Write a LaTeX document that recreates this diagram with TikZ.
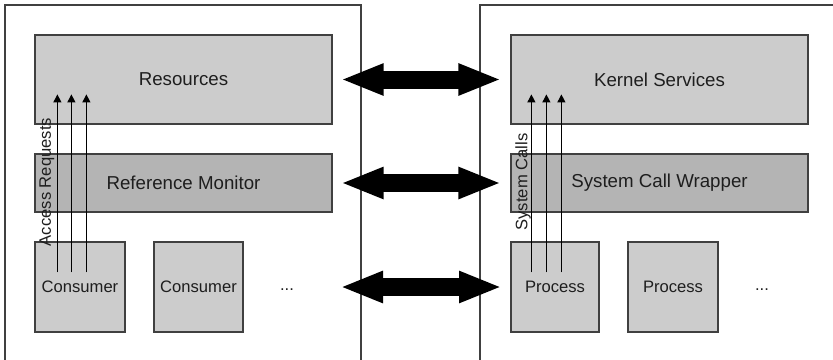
\documentclass[tikz,border=0pt]{standalone}
\usepackage{fontspec}
\setmainfont{Liberation Sans}
\usetikzlibrary{arrows.meta}
\definecolor{boxgray}{RGB}{204,204,204}
\definecolor{monitorgray}{RGB}{180,180,180}
\definecolor{framegray}{RGB}{64,64,64}
\definecolor{textgray}{RGB}{30,30,30}

\begin{document}
\begin{tikzpicture}[x=0.5pt,y=-0.5pt,
  frame/.style={draw=framegray,line width=0.6pt},
  layer/.style={draw=framegray,fill=boxgray,line width=0.6pt,inner sep=0pt,
    text=textgray,font=\fontsize{9.35}{11}\selectfont,
    minimum width=148.5pt},
  monitor/.style={layer,fill=monitorgray,minimum height=29pt},
  task/.style={layer,font=\fontsize{8.3}{10}\selectfont,minimum width=45pt,minimum height=45pt},
  smalltext/.style={text=textgray,font=\fontsize{8.3}{10}\selectfont,inner sep=0pt},
  bigarrow/.style={line width=9pt,{Triangle[length=21.5pt,width=14.5pt]}-{Triangle[length=21.5pt,width=14.5pt]}},
  callarrow/.style={line width=0.6pt,-{Triangle[length=4pt,width=4pt]}}]
\useasboundingbox (0,0) rectangle (833,359);
\clip (0,0) rectangle (833,359);

% the two systems
\draw[frame] (5,5) rectangle (361,380);
\draw[frame] (480,5) rectangle (850,380);

% left side
\node[layer,minimum height=44.5pt] (res) at (183.5,79.5) {Resources};
\node[monitor] (mon) at (183.5,183) {Reference Monitor};
\node[task] (cons1) at (80,287) {Consumer};
\node[task,minimum width=44.5pt] (cons2) at (198.5,287) {Consumer};
\node[smalltext] (dotsL) at (287,290) {...};

% right side
\node[layer,minimum height=44.5pt] (kern) at (659.5,79.5) {Kernel Services};
\node[monitor] (wrap) at (659.5,183) {System Call Wrapper};
\node[task,minimum width=44pt] (proc1) at (555,287) {Process};
\node[task] (proc2) at (673,287) {Process};
\node[smalltext] (dotsR) at (762,290) {...};

% requests going up
\foreach \dx in {23,37,52}
  \draw[callarrow] ([shift={(\dx,31)}]cons1.north west) -- ([shift={(\dx,60)}]res.north west);
\foreach \dx in {21,36,51}
  \draw[callarrow] ([shift={(\dx,31)}]proc1.north west) -- ([shift={(\dx,60)}]kern.north west);

\node[smalltext,rotate=90] (acc) at (47,182) {Access Requests};
\node[smalltext,rotate=90] (calls) at (523,182) {System Calls};

% correspondences
\coordinate (lowL) at (340,287);
\coordinate (lowR) at (502,287);
\draw[bigarrow] ([xshift=4pt]res.east) -- ([xshift=-4.5pt]kern.west);
\draw[bigarrow] ([xshift=4pt]mon.east) -- ([xshift=-4.5pt]wrap.west);
\draw[bigarrow] (lowL) -- (lowR);
\end{tikzpicture}
\end{document}
